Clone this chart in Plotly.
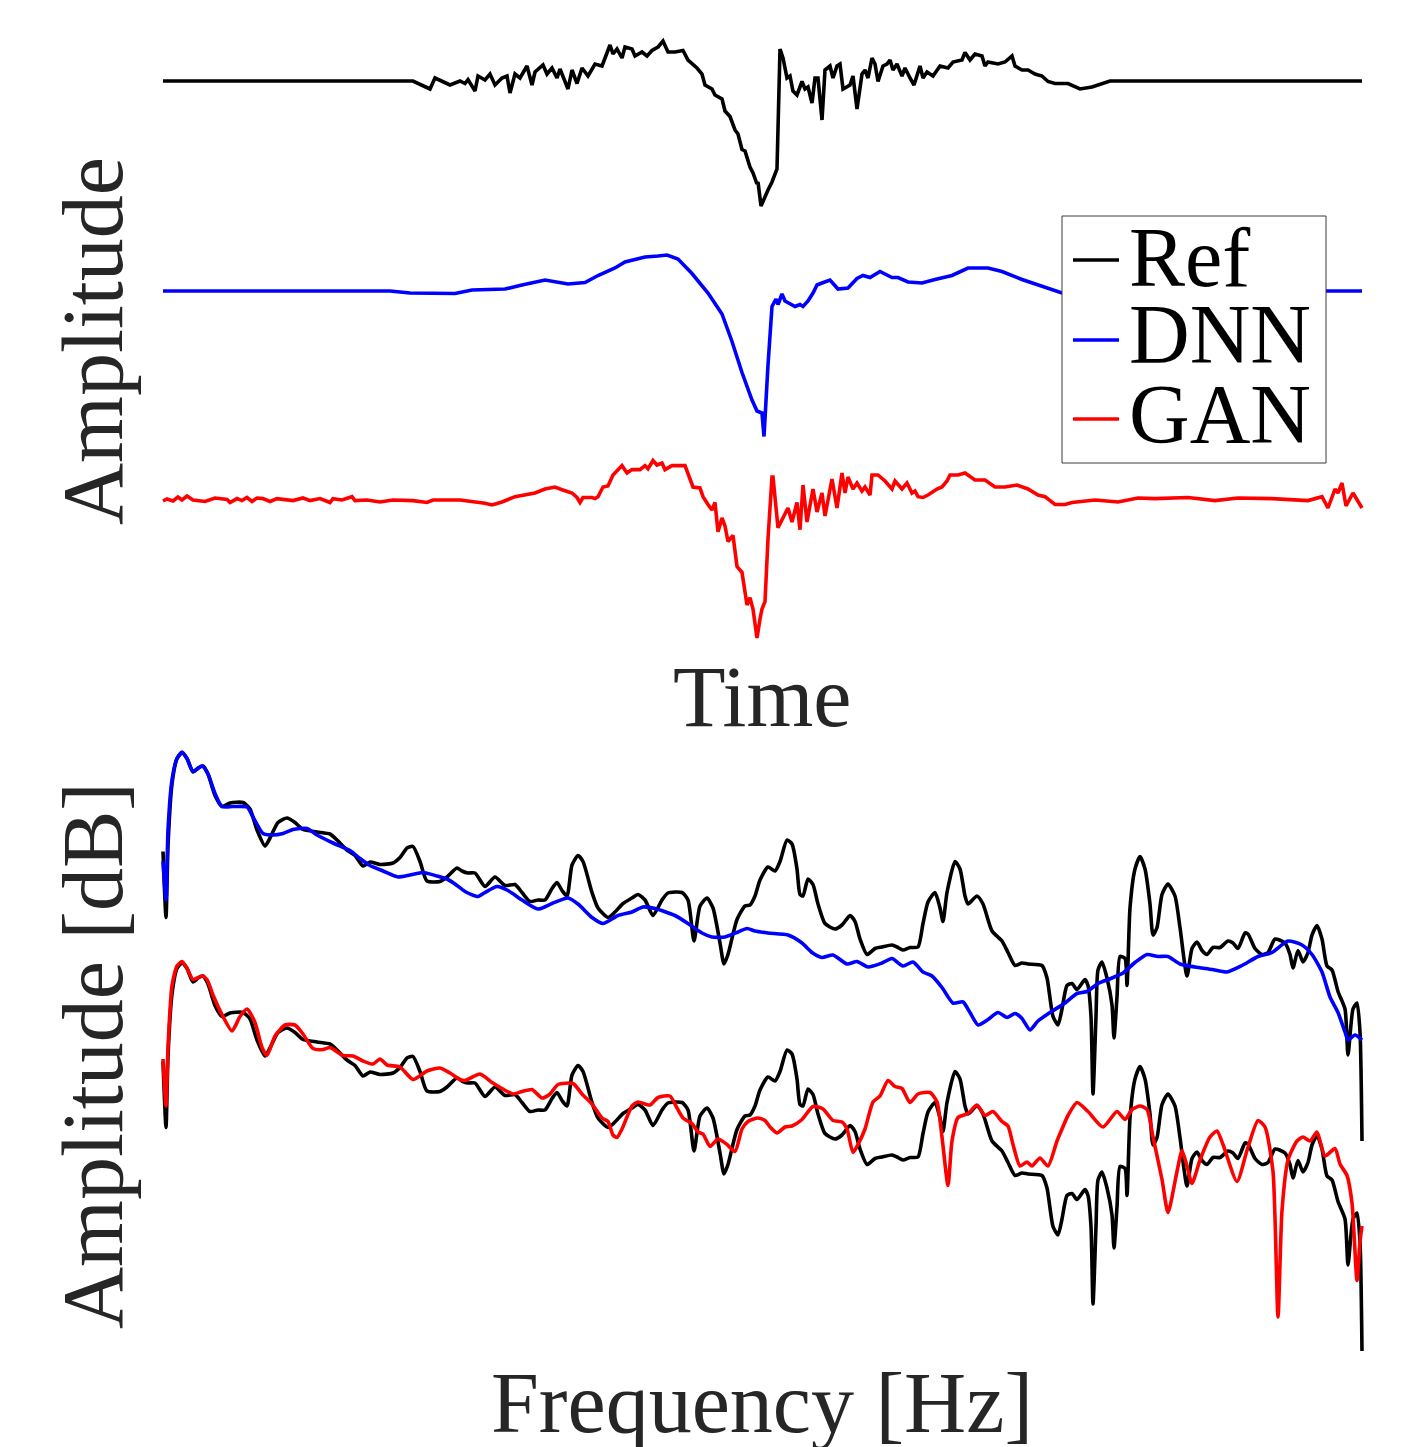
import plotly.graph_objects as go

# ---------------- Time-domain data (sample index, amplitude) ----------------
ref_time_n = [0, 250, 267, 272, 287, 297, 302, 305, 312, 315,
              322, 327, 332, 339, 344, 347, 352, 357, 364, 369,
              372, 380, 384, 389, 394, 397, 405, 409, 414, 419,
              425, 432, 439, 447, 450, 454, 459, 462, 469, 472,
              479, 484, 489, 495, 500, 505, 512, 520, 525, 534,
              539, 542, 549, 552, 559, 562, 567, 572, 575, 579,
              582, 587, 590, 594, 595, 598, 605, 609, 614, 615,
              617, 620, 624, 627, 630, 634, 639, 642, 645, 649,
              652, 655, 659, 662, 667, 670, 674, 677, 680, 687,
              690, 694, 699, 702, 705, 709, 712, 715, 720, 724,
              727, 730, 734, 739, 742, 747, 751, 757, 760, 764,
              770, 777, 785, 790, 799, 802, 807, 812, 819, 822,
              825, 835, 842, 849, 852, 859, 865, 872, 879, 885,
              892, 905, 917, 929, 947, 1199]
ref_time_amp = [0, 0, -0.08, 0.03, -0.04, 0, -0.025, 0.014, -0.10, 0.05,
                0.01, 0.07, -0.04, 0.03, 0.05, -0.12, 0.07, 0.03, 0.15, -0.04,
                0.09, 0.16, 0.07, 0.13, 0.03, 0.12, -0.08, 0.11, -0.025, 0.13,
                0.05, 0.17, 0.15, 0.36, 0.27, 0.32, 0.23, 0.34, 0.32, 0.25,
                0.29, 0.25, 0.305, 0.34, 0.40, 0.29, 0.29, 0.305, 0.21, 0.13,
                0.07, -0.04, -0.08, -0.14, -0.18, -0.30, -0.355, -0.49, -0.53, -0.685,
                -0.70, -0.86, -0.92, -1.03, -1.01, -1.25, -1.09, -1.01, -0.88, -0.47,
                0.32, 0.23, 0.03, 0.05, -0.10, -0.14, -0.005, -0.08, -0.06, -0.22,
                0.03, 0.03, -0.39, 0.11, 0.15, 0.03, 0.15, 0.17, -0.08, -0.04,
                0.05, -0.28, 0.07, 0.11, 0.03, 0.23, 0.17, -0.005, 0.15, 0.17,
                0.21, 0.11, 0.17, 0.05, 0.13, 0.03, -0.04, 0.15, 0.03, 0.09,
                0.05, 0.15, 0.13, 0.19, 0.21, 0.285, 0.21, 0.27, 0.25, 0.15,
                0.19, 0.17, 0.19, 0.25, 0.15, 0.11, 0.11, 0.07, 0.05, -0.005,
                -0.025, -0.025, -0.08, -0.06, 0, 0]

dnn_time_n = [0, 227, 247, 292, 309, 342, 359, 382, 405, 422,
              435, 452, 462, 482, 495, 504, 515, 529, 545, 559,
              569, 579, 589, 594, 599, 601, 605, 609, 613, 615,
              619, 622, 632, 637, 640, 645, 650, 654, 659, 667,
              675, 685, 694, 700, 707, 717, 729, 735, 745, 759,
              772, 789, 805, 825, 839, 859, 899, 937, 987, 1037,
              1199]
dnn_time_amp = [0, 0, -0.02, -0.025, 0.01, 0.02, 0.06, 0.11, 0.07, 0.085,
                0.155, 0.23, 0.29, 0.34, 0.35, 0.36, 0.32, 0.175, -0.02, -0.23,
                -0.505, -0.815, -1.09, -1.20, -1.22, -1.455, -0.74, -0.155, -0.08, -0.135,
                -0.03, -0.10, -0.155, -0.135, -0.155, -0.10, -0.02, 0.06, 0.08, 0.11,
                0.02, 0.03, 0.125, 0.155, 0.135, 0.195, 0.135, 0.135, 0.09, 0.08,
                0.115, 0.155, 0.23, 0.23, 0.195, 0.115, -0.02, -0.03, -0.01, 0,
                0]

gan_time_n = [0, 4, 10, 15, 19, 24, 30, 42, 52, 64,
              67, 74, 79, 84, 89, 94, 100, 107, 114, 130,
              140, 147, 157, 167, 170, 179, 189, 192, 204, 217,
              230, 250, 264, 270, 297, 302, 312, 322, 329, 339,
              352, 372, 382, 392, 399, 409, 414, 417, 420, 429,
              432, 435, 440, 445, 450, 459, 464, 469, 477, 482,
              485, 490, 494, 499, 502, 509, 522, 525, 530, 537,
              540, 545, 549, 552, 555, 559, 562, 565, 570, 574,
              579, 584, 587, 590, 594, 597, 599, 602, 605, 609,
              610, 615, 620, 625, 629, 634, 637, 640, 644, 650,
              654, 659, 662, 669, 674, 679, 682, 685, 690, 694,
              699, 702, 707, 709, 715, 722, 729, 732, 739, 744,
              749, 752, 755, 760, 765, 774, 779, 784, 787, 795,
              802, 812, 822, 832, 842, 849, 854, 865, 875, 882,
              892, 902, 909, 932, 955, 975, 992, 1025, 1052, 1075,
              1109, 1145, 1159, 1165, 1172, 1175, 1179, 1183, 1190, 1199]
gan_time_amp = [0, 0.02, 0, 0.04, 0.01, 0.05, 0.01, -0.005, 0.03, 0.015,
                -0.015, 0.024, 0.004, 0.035, -0.005, 0.03, 0.024, -0.005, 0.024, 0.004,
                0.03, 0.004, 0.024, -0.015, 0.024, 0.01, 0.043, 0.004, 0.01, -0.01,
                0.01, 0.004, -0.015, 0.01, 0.01, 0.004, -0.015, -0.023, -0.04, -0.01,
                0.043, 0.08, 0.12, 0.14, 0.113, 0.08, 0.035, -0.015, 0.035, 0.035,
                0.024, 0.043, 0.14, 0.15, 0.26, 0.354, 0.28, 0.314, 0.314, 0.354,
                0.322, 0.404, 0.36, 0.38, 0.314, 0.354, 0.354, 0.28, 0.14, 0.13,
                0.043, -0.035, -0.09, -0.015, -0.307, -0.17, -0.25, -0.405, -0.345, -0.656,
                -0.714, -1.04, -0.966, -1.08, -1.37, -1.18, -1.08, -1.005, -0.38, 0.24,
                0.24, -0.267, -0.17, -0.07, -0.21, -0.015, -0.287, 0.16, -0.21, 0.12,
                -0.11, 0.08, -0.15, 0.22, -0.07, 0.28, 0.08, 0.24, 0.12, 0.18,
                0.10, 0.14, 0.06, 0.26, 0.26, 0.20, 0.12, 0.20, 0.12, 0.18,
                0.08, 0.10, 0.043, 0.035, 0.06, 0.12, 0.14, 0.20, 0.26, 0.26,
                0.28, 0.21, 0.21, 0.14, 0.14, 0.15, 0.16, 0.12, 0.06, 0.043,
                -0.035, -0.035, -0.015, 0.01, -0.01, 0.03, 0.024, 0.035, 0.004, 0.03,
                0.024, 0.004, 0.043, -0.07, 0.12, 0.08, 0.18, -0.05, 0.08, -0.07]

# ---------------- Spectra (frequency bin, dB) ----------------
ref_spec_bin = [0, 3, 5, 9, 14, 19, 24, 30, 35, 40,
                45, 52, 59, 67, 80, 87, 94, 102, 107, 115,
                124, 132, 140, 154, 167, 174, 184, 192, 200, 207,
                217, 230, 237, 244, 250, 257, 264, 277, 284, 294,
                299, 305, 312, 322, 332, 342, 352, 359, 367, 375,
                382, 389, 394, 399, 404, 409, 415, 420, 429, 435,
                445, 452, 460, 469, 475, 482, 490, 499, 505, 519,
                525, 531, 537, 544, 550, 557, 561, 565, 574, 582,
                587, 592, 597, 605, 612, 617, 624, 629, 634, 637,
                640, 645, 650, 655, 662, 672, 679, 687, 692, 697,
                704, 712, 719, 729, 734, 740, 747, 755, 760, 765,
                772, 777, 780, 784, 792, 797, 802, 805, 814, 820,
                829, 839, 845, 852, 859, 865, 879, 884, 890, 895,
                899, 904, 909, 914, 922, 925, 928, 930, 933, 935,
                939, 944, 949, 951, 954, 957, 962, 964, 967, 972,
                977, 982, 987, 990, 994, 999, 1005, 1012, 1017, 1024,
                1029, 1034, 1039, 1044, 1050, 1057, 1065, 1070, 1075, 1082,
                1085, 1092, 1099, 1105, 1112, 1122, 1127, 1130, 1135, 1140,
                1145, 1149, 1154, 1159, 1164, 1169, 1175, 1182, 1185, 1190,
                1194, 1197, 1199]
ref_spec_db = [-19.9, -33.1, -18.8, -6.4, -1.3, -0.2, -1.3, -4.0, -3.2, -2.8,
               -4.4, -8.7, -10.9, -10.2, -10.1, -11.4, -15.6, -18.8, -17.2, -14.1,
               -13.2, -14.1, -15.5, -16.0, -16.4, -17.6, -19.6, -20.7, -22.8, -22.0,
               -22.5, -22.2, -21.1, -19.2, -18.9, -21.9, -25.8, -25.9, -25.0, -23.2,
               -23.8, -24.2, -24.2, -26.9, -25.0, -26.7, -26.5, -28.1, -29.9, -29.6,
               -29.6, -27.3, -26.1, -27.7, -28.8, -22.6, -20.7, -21.9, -28.1, -31.2,
               -33.1, -32.0, -30.3, -29.2, -28.5, -29.6, -32.7, -29.6, -28.2, -28.1,
               -29.6, -37.8, -30.8, -29.2, -31.2, -38.2, -42.4, -40.5, -33.5, -30.8,
               -30.6, -28.8, -25.6, -23.0, -23.8, -21.9, -17.6, -18.4, -23.4, -28.5,
               -28.8, -25.4, -26.5, -30.4, -34.3, -35.4, -34.6, -32.7, -33.9, -37.4,
               -40.5, -39.3, -39.0, -38.6, -39.0, -39.6, -39.1, -39.0, -34.3, -30.0,
               -28.1, -31.2, -33.9, -28.1, -21.9, -23.4, -28.8, -30.4, -28.8, -30.4,
               -35.8, -37.8, -40.1, -42.7, -42.2, -42.4, -42.7, -45.2, -52.9, -54.6,
               -51.4, -46.7, -46.3, -47.5, -45.5, -46.7, -52.9, -68.4, -52.9, -43.6,
               -42.0, -45.2, -50.6, -57.2, -49.0, -40.9, -41.3, -46.7, -31.2, -23.4,
               -20.9, -23.4, -30.4, -36.6, -35.1, -28.5, -26.4, -28.8, -35.1, -44.8,
               -39.3, -38.0, -39.7, -40.5, -39.1, -39.1, -37.8, -38.2, -39.3, -36.2,
               -36.4, -39.3, -40.5, -40.1, -37.4, -38.2, -40.5, -43.2, -39.7, -42.0,
               -40.1, -36.6, -34.7, -37.4, -42.8, -43.6, -47.9, -51.4, -60.6, -51.4,
               -50.2, -56.0, -77.8]

dnn_spec_bin = [0, 3, 5, 9, 14, 19, 24, 30, 39, 45,
                52, 59, 70, 84, 90, 100, 110, 120, 130, 144,
                154, 170, 187, 197, 207, 220, 235, 247, 260, 274,
                284, 292, 302, 315, 322, 334, 345, 359, 375, 389,
                405, 415, 429, 440, 455, 469, 480, 492, 512, 525,
                539, 549, 562, 575, 584, 592, 605, 625, 639, 649,
                659, 670, 684, 694, 705, 719, 729, 740, 750, 760,
                769, 779, 790, 800, 807, 815, 825, 835, 844, 852,
                859, 867, 875, 887, 902, 914, 924, 935, 949, 960,
                972, 984, 995, 1005, 1017, 1032, 1049, 1064, 1079, 1095,
                1109, 1125, 1139, 1149, 1159, 1167, 1175, 1182, 1185, 1192,
                1199]
dnn_spec_db = [-21.9, -29.6, -15.6, -5.6, -1.3, 0.0, -1.3, -3.9, -2.8, -4.4,
               -8.3, -10.9, -10.9, -11.0, -13.0, -16.3, -16.6, -16.3, -15.5, -15.3,
               -16.6, -18.2, -19.7, -21.3, -22.7, -23.8, -25.0, -24.6, -24.1, -24.8,
               -25.4, -26.4, -27.9, -28.9, -28.1, -26.9, -27.7, -29.6, -31.4, -30.3,
               -29.2, -30.4, -33.1, -34.3, -32.7, -32.0, -31.0, -31.3, -32.7, -34.3,
               -36.2, -37.0, -37.0, -36.0, -35.3, -35.8, -36.2, -36.6, -38.2, -40.1,
               -41.1, -40.6, -42.4, -41.9, -43.0, -42.2, -41.3, -42.8, -42.0, -44.0,
               -44.8, -47.1, -50.2, -50.0, -52.1, -54.6, -53.5, -52.1, -53.1, -52.3,
               -53.3, -55.6, -53.8, -52.1, -50.2, -48.3, -47.9, -46.3, -45.2, -44.2,
               -42.1, -40.5, -40.9, -40.9, -42.4, -43.0, -43.5, -44.0, -42.7, -40.9,
               -40.1, -37.8, -38.6, -40.5, -44.0, -49.0, -52.1, -56.0, -57.6, -56.6,
               -57.6]

gan_spec_bin = [0, 3, 5, 9, 14, 19, 24, 30, 39, 44,
                50, 59, 69, 77, 84, 92, 99, 104, 112, 122,
                132, 140, 150, 160, 167, 180, 190, 200, 210, 217,
                224, 237, 250, 264, 277, 287, 297, 302, 317, 329,
                339, 350, 359, 369, 379, 387, 395, 410, 419, 429,
                439, 445, 450, 454, 459, 469, 475, 487, 495, 507,
                514, 520, 529, 535, 540, 547, 555, 564, 572, 579,
                585, 595, 602, 607, 614, 622, 629, 639, 650, 660,
                670, 679, 684, 690, 695, 702, 710, 717, 725, 732,
                739, 747, 755, 767, 774, 779, 785, 789, 795, 805,
                814, 822, 830, 839, 845, 850, 857, 864, 869, 877,
                885, 894, 899, 905, 914, 925, 940, 954, 962, 969,
                977, 984, 990, 999, 1005, 1014, 1019, 1024, 1029, 1037,
                1047, 1054, 1060, 1074, 1084, 1095, 1102, 1110, 1115, 1119,
                1125, 1134, 1140, 1147, 1154, 1162, 1172, 1177, 1184, 1189,
                1194, 1197, 1199]
gan_spec_db = [-19.4, -28.8, -17.1, -4.7, -0.8, 0.1, -1.2, -3.5, -2.8, -3.5,
               -6.6, -10.5, -13.8, -10.9, -9.4, -12.1, -17.1, -18.7, -14.8, -12.6,
               -12.6, -14.4, -17.3, -17.5, -17.1, -18.7, -18.8, -19.8, -20.4, -19.4,
               -20.6, -21.0, -23.5, -21.8, -21.2, -22.2, -23.5, -23.7, -22.4, -24.1,
               -25.3, -26.4, -25.9, -25.5, -27.2, -26.4, -24.5, -24.3, -26.4, -28.4,
               -31.2, -31.9, -34.6, -35.1, -33.4, -28.8, -28.0, -28.6, -27.1, -26.8,
               -29.2, -31.2, -32.3, -34.0, -34.4, -36.9, -35.4, -36.5, -37.9, -33.4,
               -31.9, -31.2, -31.7, -33.0, -34.2, -33.0, -32.8, -31.5, -28.9, -29.4,
               -31.7, -32.0, -33.4, -38.1, -36.5, -33.4, -28.0, -26.8, -23.7, -24.9,
               -25.3, -28.1, -26.4, -26.1, -28.0, -35.0, -44.7, -35.8, -31.1, -30.3,
               -28.6, -30.7, -29.9, -31.9, -32.8, -36.5, -40.8, -40.0, -40.8, -39.2,
               -40.8, -35.8, -33.4, -30.7, -28.1, -29.9, -33.0, -29.9, -31.5, -29.5,
               -28.8, -29.5, -35.0, -43.5, -50.1, -41.9, -37.7, -40.8, -44.3, -39.6,
               -35.0, -33.8, -36.5, -43.9, -37.7, -31.7, -33.0, -41.9, -71.0, -49.7,
               -39.6, -35.8, -35.0, -35.8, -34.0, -38.8, -37.3, -40.4, -42.7, -48.2,
               -63.7, -55.9, -52.8]

legend_names = ["Ref", "DNN", "GAN"]
colors = {"Ref": "#000000", "DNN": "#0000FF", "GAN": "#FF0000"}

# ---------------- Layout helpers ----------------
W, H = 1410, 1447
HZ_PER_BIN = 8000.0 / 1199.0
FONT = "Liberation Serif"
LABEL_COLOR = "#262626"
LW = 3.6

TIME_OFFSETS = {"Ref": 0.0, "DNN": -2.1, "GAN": -4.2}
SPEC_OFFSET_LOW = -42.0


def fx(p):
    return p / W


def fy(p):
    return 1 - p / H


fig = go.Figure()

# Top panel: time signals (stacked with offsets)
for name, n, amp in [("Ref", ref_time_n, ref_time_amp),
                     ("DNN", dnn_time_n, dnn_time_amp),
                     ("GAN", gan_time_n, gan_time_amp)]:
    fig.add_trace(go.Scatter(
        x=n, y=[a + TIME_OFFSETS[name] for a in amp], mode="lines",
        line=dict(color=colors[name], width=LW),
        xaxis="x", yaxis="y", showlegend=False, hoverinfo="skip", name=name))

# Bottom panel: spectra
ref_f = [b * HZ_PER_BIN for b in ref_spec_bin]
dnn_f = [b * HZ_PER_BIN for b in dnn_spec_bin]
gan_f = [b * HZ_PER_BIN for b in gan_spec_bin]

spec_traces = [
    ("Ref", ref_f, ref_spec_db, 0.0),
    ("DNN", dnn_f, dnn_spec_db, 0.0),
    ("Ref", ref_f, ref_spec_db, SPEC_OFFSET_LOW),
    ("GAN", gan_f, gan_spec_db, SPEC_OFFSET_LOW),
]
for name, f, db, off in spec_traces:
    fig.add_trace(go.Scatter(
        x=f, y=[d + off for d in db], mode="lines",
        line=dict(color=colors[name], width=LW, shape="spline", smoothing=0.6),
        xaxis="x2", yaxis="y2", showlegend=False, hoverinfo="skip", name=name))

axis_off = dict(visible=False, showgrid=False, zeroline=False, fixedrange=True)

fig.update_layout(
    width=W, height=H,
    margin=dict(l=0, r=0, t=0, b=0),
    paper_bgcolor="white", plot_bgcolor="white",
    font=dict(family=FONT, color=LABEL_COLOR),
    xaxis=dict(domain=[fx(150), fx(1375)], range=[-13, 1212], anchor="y", **axis_off),
    yaxis=dict(domain=[fy(647), fy(35)], range=[-5.66, 0.46], anchor="x", **axis_off),
    xaxis2=dict(domain=[fx(150), fx(1375)], range=[-13 * HZ_PER_BIN, 1212 * HZ_PER_BIN],
                anchor="y2", **axis_off),
    yaxis2=dict(domain=[fy(1362), fy(745)], range=[-122, 1.4], anchor="x2", **axis_off),
)

annotations = [
    dict(text="Time", x=fx(762), y=fy(697), textangle=0, size=86),
    dict(text="Frequency [Hz]", x=fx(762), y=fy(1403), textangle=0, size=86),
    dict(text="Amplitude", x=fx(93), y=fy(341), textangle=-90, size=86),
    dict(text="Amplitude [dB]", x=fx(93), y=fy(1056), textangle=-90, size=86),
]
for a in annotations:
    fig.add_annotation(
        text=a["text"], x=a["x"], y=a["y"], xref="paper", yref="paper",
        xanchor="center", yanchor="middle", showarrow=False, textangle=a["textangle"],
        font=dict(family=FONT, size=a["size"], color=LABEL_COLOR))

# Legend box (drawn manually to match the compact layout)
fig.add_shape(type="rect", xref="paper", yref="paper",
              x0=fx(1062), x1=fx(1326), y0=fy(463), y1=fy(216),
              line=dict(color="#3a3a3a", width=1), fillcolor="white", layer="above")
legend_rows = [(260, 257), (340, 335), (419, 414)]
for name, (ly, ty) in zip(legend_names, legend_rows):
    fig.add_shape(type="line", xref="paper", yref="paper",
                  x0=fx(1073), x1=fx(1119), y0=fy(ly), y1=fy(ly),
                  line=dict(color=colors[name], width=LW), layer="above")
    fig.add_annotation(text=name, x=fx(1127), y=fy(ty), xref="paper", yref="paper",
                       xanchor="left", yanchor="middle", showarrow=False,
                       font=dict(family=FONT, size=84, color="#000000"))

# remove the default page margin so the figure sits at the window's top-left corner
fig.write_html("out.html", config={"displayModeBar": False},
               post_script="document.body.style.margin='0';")
